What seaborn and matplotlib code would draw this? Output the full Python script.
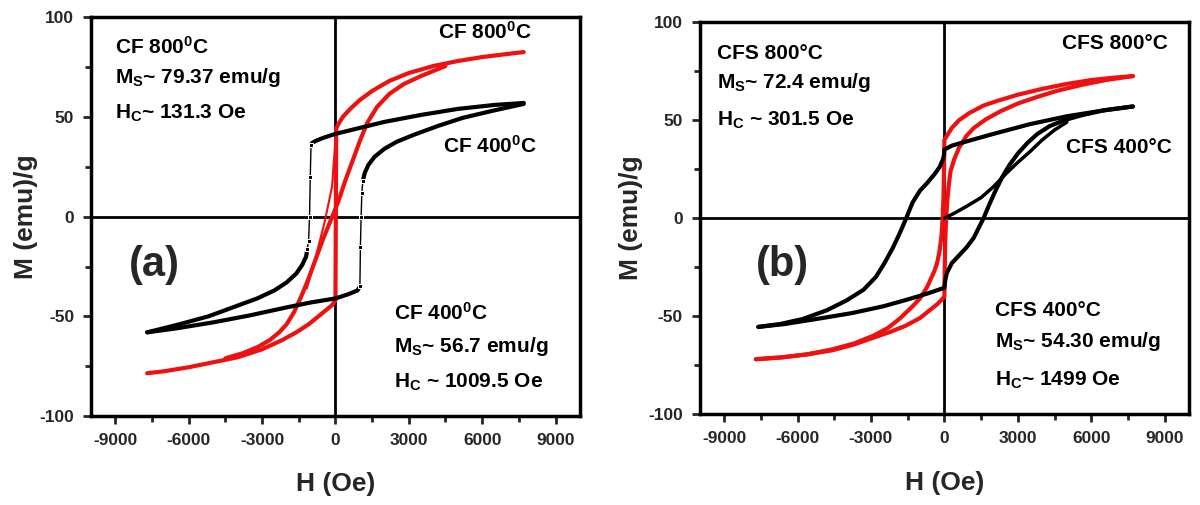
import numpy as np
import pandas as pd
import matplotlib
matplotlib.use('Agg')
import matplotlib.pyplot as plt
from matplotlib.ticker import MultipleLocator
import seaborn as sns

# ── Data (H in Oe, M in emu/g) ───────────────────────────────────────────────
# (a) CF 400 C  - black, square loop
cf400_down_H = [7700, 6500, 5000, 3500, 2000, 1000, 0, -500, -800, -950, -1000]
cf400_down_M = [57, 56, 54, 51, 47.5, 44.5, 41.5, 39.5, 38, 37, 36]
cf400_dropL_H = [-1000, -1030, -1060, -1100, -1150]
cf400_dropL_M = [36, 20, 0, -12, -16]
cf400_tailL_H = [-1150, -1200, -1350, -1600, -2000, -2500, -3200, -4200, -5200, -6400, -7700]
cf400_tailL_M = [-16, -20, -24, -28.5, -33, -37, -41, -45.5, -50, -54, -58]
cf400_up_H = [-7700, -6500, -5000, -3500, -2000, -1000, 0, 500, 900, 1000]
cf400_up_M = [-58, -56, -53, -49.5, -45.5, -43, -41, -39, -37, -35]
cf400_riseR_H = [1000, 1020, 1050, 1080, 1120]
cf400_riseR_M = [-35, -15, 0, 12, 18]
cf400_tailR_H = [1120, 1200, 1350, 1600, 2000, 2500, 3200, 4200, 5200, 6400, 7700]
cf400_tailR_M = [18, 22, 26, 30, 34, 37.5, 41, 45.5, 49.5, 53, 56.5]

# (a) CF 800 C  - red
cf800_outer_H = [7700, 7000, 6000, 5000, 4000, 3000, 2200, 1500, 1000, 600, 300, 100, 30,
                 15, 0, -150, -400, -700, -1100, -1600, -2200, -3000, -4000,
                 -5000, -6000, -7000, -7700]
cf800_outer_M = [82.5, 81.5, 80, 78, 75.5, 72, 68, 63, 58.5, 54, 50, 46, 44,
                 0, -42, -44.5, -47, -50, -54, -58, -62, -66.5, -70.5,
                 -73, -75.5, -77.5, -78.5]
cf800_inner_H = [-4500, -3800, -3200, -2700, -2300, -2000, -1700, -1400, -1100, -800,
                 -500, -200, 100, 400, 700, 1000, 1300, 1700, 2200, 2800, 3500, 4500]
cf800_inner_M = [-71, -68.5, -65.5, -62, -58, -54, -48, -40, -31, -21,
                 -11, -2, 7, 18, 28, 38, 47, 55, 61.5, 66.5, 70.5, 75.5]
cf800_bow_H = [30, -140, -430, -800, -1170]
cf800_bow_M = [44, 15, -2, -20, -36]

# (b) CFS 400 C - black
cfs400_down_H = [7700, 6500, 5000, 3500, 2000, 1000, 300, 0, -20, -60, -200, -400,
                 -700, -1000, -1300, -1560, -1800, -2100, -2450, -2800, -3300,
                 -4000, -4800, -5800, -6700, -7600]
cfs400_down_M = [57, 55, 52, 48, 43, 39.5, 37, 35, 32, 30, 26, 22.5,
                 18, 14, 8, 0, -7, -15, -23, -30, -36.5,
                 -42, -47, -51.5, -54, -55.5]
cfs400_up_H = [-7600, -6500, -5000, -3800, -2500, -1500, -700, 0, 30, 100, 300, 600,
               900, 1200, 1400, 1600, 1800, 2050, 2350, 2650, 3000, 3400, 3800,
               4300, 4900, 5600, 6500, 7700]
cfs400_up_M = [-55.5, -54, -51, -48.5, -45, -41.5, -38.5, -35.5, -32, -28, -23, -19,
               -15, -10, -5, 0, 6, 13, 20.7, 27, 33, 38.5, 43,
               47, 50, 52.5, 55, 57]
cfs400_virgin_H = [0, 400, 900, 1500, 2000, 2500, 3000, 3500, 4000, 4500, 5000]
cfs400_virgin_M = [0, 2.5, 6, 10.5, 16, 22.5, 28.5, 34, 40, 45, 49]

# (b) CFS 800 C - red
cfs800_down_H = [7700, 7000, 6000, 5000, 4000, 3000, 2200, 1600, 1000, 600, 300, 100, 0,
                 -15, -40, -70, -120, -200, -300, -410, -700, -1000, -1300, -1800,
                 -2300, -2900, -3700, -4600, -5600, -6600, -7700]
cfs800_down_M = [72.5, 71.8, 70.5, 68.5, 66, 63, 60, 57.5, 53.5, 50, 46, 42, 40,
                 25, 10, 0, -9, -17, -23, -27, -35, -41, -45, -51,
                 -56, -60, -64, -67, -69.5, -71, -72]
cfs800_up_H = [-7700, -6600, -5600, -4600, -3700, -2900, -2200, -1600, -1000, -600,
               -300, -100, 0, 15, 40, 70, 120, 180, 250, 400, 600, 900, 1200, 1700,
               2300, 3000, 3700, 4600, 5600, 6600, 7700]
cfs800_up_M = [-72, -71, -69.5, -67.5, -64.5, -61, -58, -55, -51, -47,
               -44, -41.5, -40, -25, -10, 0, 9, 17, 24, 30, 36, 42, 46, 50.5,
               54.6, 58.5, 61.5, 65, 68, 70.5, 72.5]

x_ticks = [-9000, -6000, -3000, 0, 3000, 6000, 9000]
y_ticks = [-100, -50, 0, 50, 100]

# ── Style ─────────────────────────────────────────────────────────────────────
sns.set_style('ticks')
plt.rcParams['font.family'] = ['Liberation Sans', 'DejaVu Sans']
plt.rcParams['font.weight'] = 'bold'
plt.rcParams['axes.unicode_minus'] = False
plt.rcParams['mathtext.fontset'] = 'custom'
plt.rcParams['mathtext.rm'] = 'Liberation Sans:bold'
plt.rcParams['mathtext.default'] = 'rm'

RED = '#ee1111'
BLK = '#000000'
LW = 3.0


def branch(ax, H, M, color, lw=LW, **kw):
    sns.lineplot(x=H, y=M, sort=False, estimator=None, color=color,
                 lw=lw, ax=ax, legend=False, **kw)


def frame(ax, ylab_x, xlab_y):
    ax.set_xlim(-10000, 10000)
    ax.set_ylim(-100, 100)
    ax.set_xticks(x_ticks)
    ax.set_yticks(y_ticks)
    ax.xaxis.set_minor_locator(MultipleLocator(1500))
    ax.yaxis.set_minor_locator(MultipleLocator(25))
    ax.axhline(0, color='k', lw=2, zorder=1)
    ax.axvline(0, color='k', lw=2, zorder=1)
    for s in ax.spines.values():
        s.set_linewidth(2.5)
        s.set_color('k')
        s.set_visible(True)
    ax.tick_params(which='major', direction='out', length=6, width=2,
                   labelsize=12.5, pad=6)
    ax.tick_params(which='minor', direction='out', length=4, width=2)
    for lab in ax.get_xticklabels() + ax.get_yticklabels():
        lab.set_fontweight('bold')
    ax.set_xlabel('H (Oe)', fontsize=19, fontweight='bold')
    ax.set_ylabel('M (emu)/g', fontsize=19, fontweight='bold')
    ax.xaxis.set_label_coords(0.5, xlab_y)
    ax.yaxis.set_label_coords(ylab_x, 0.5)


fig = plt.figure(figsize=(12, 5.05), dpi=100)
axa = fig.add_axes([0.0758, 0.176, 0.4075, 0.790])
axb = fig.add_axes([0.583, 0.180, 0.408, 0.776])

# ── Panel (a) ─────────────────────────────────────────────────────────────────
branch(axa, cf800_outer_H, cf800_outer_M, RED)
branch(axa, cf800_inner_H, cf800_inner_M, RED)
branch(axa, cf800_bow_H, cf800_bow_M, RED, lw=1.5)
branch(axa, cf400_down_H, cf400_down_M, BLK)
branch(axa, cf400_tailL_H, cf400_tailL_M, BLK)
branch(axa, cf400_up_H, cf400_up_M, BLK)
branch(axa, cf400_tailR_H, cf400_tailR_M, BLK)
branch(axa, cf400_dropL_H, cf400_dropL_M, BLK, lw=1, marker='s', markersize=3.5)
branch(axa, cf400_riseR_H, cf400_riseR_M, BLK, lw=1, marker='s', markersize=3.5)
frame(axa, -0.108, -0.14)

txt = dict(fontsize=15, fontweight='bold', color='k', va='center', ha='left')
axa.text(-9000, 85, 'CF 800$^0$C', **txt)
axa.text(-9000, 70, 'M$_S$~ 79.37 emu/g', **txt)
axa.text(-9000, 52, 'H$_C$~ 131.3 Oe', **txt)
axa.text(4200, 92.5, 'CF 800$^0$C', **txt)
axa.text(4400, 35.5, 'CF 400$^0$C', **txt)
axa.text(2400, -48, 'CF 400$^0$C', **txt)
axa.text(2400, -65, 'M$_S$~ 56.7 emu/g', **txt)
axa.text(2400, -83, 'H$_C$ ~ 1009.5 Oe', **txt)
axa.text(-7400, -24, '(a)', fontsize=30, fontweight='bold', ha='center', va='center')

# ── Panel (b) ─────────────────────────────────────────────────────────────────
branch(axb, cfs800_down_H, cfs800_down_M, RED)
branch(axb, cfs800_up_H, cfs800_up_M, RED)
branch(axb, cfs400_down_H, cfs400_down_M, BLK)
branch(axb, cfs400_up_H, cfs400_up_M, BLK)
branch(axb, cfs400_virgin_H, cfs400_virgin_M, BLK, lw=2.5)
frame(axb, -0.115, -0.145)

axb.text(-9300, 84, 'CFS 800°C', **txt)
axb.text(-9300, 69, 'M$_S$~ 72.4 emu/g', **txt)
axb.text(-9300, 50, 'H$_C$ ~ 301.5 Oe', **txt)
axb.text(4800, 89, 'CFS 800°C', **txt)
axb.text(4950, 36, 'CFS 400°C', **txt)
axb.text(2050, -47, 'CFS 400°C', **txt)
axb.text(2050, -63, 'M$_S$~ 54.30 emu/g', **txt)
axb.text(2050, -83, 'H$_C$~ 1499 Oe', **txt)
axb.text(-6600, -24, '(b)', fontsize=30, fontweight='bold', ha='center', va='center')

fig.savefig('out.png', dpi=100, facecolor='white')
